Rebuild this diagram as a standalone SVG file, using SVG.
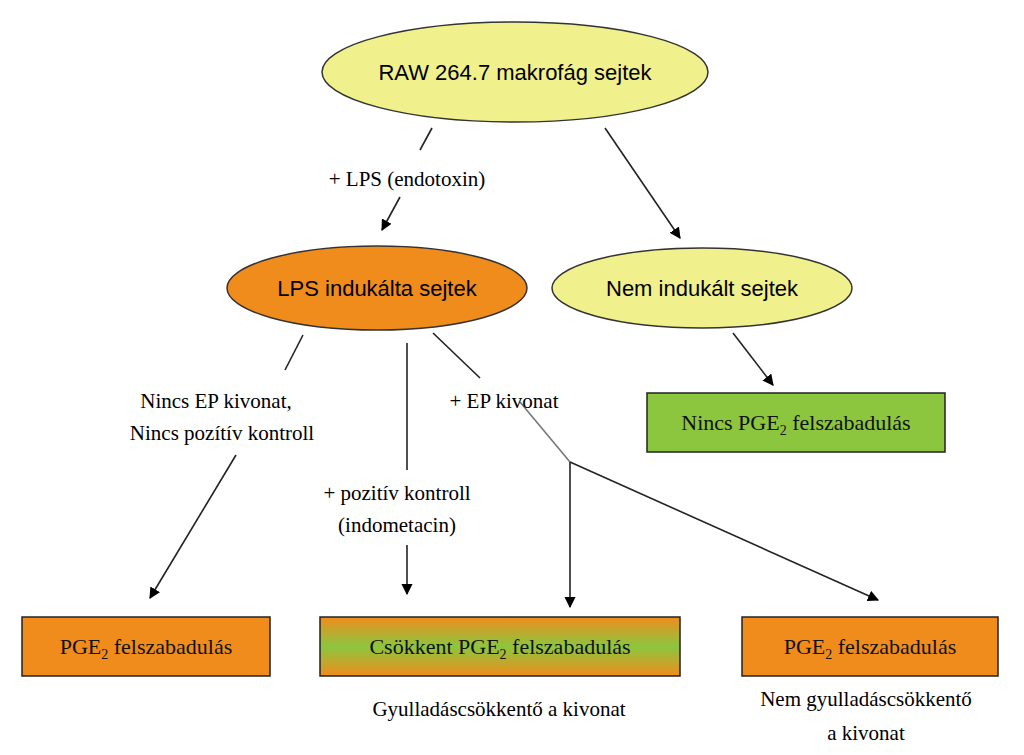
<svg xmlns="http://www.w3.org/2000/svg" width="1024" height="755" viewBox="0 0 1024 755">
<style>
.s{font-family:"Liberation Sans",Arial,sans-serif;font-size:22px;text-anchor:middle;fill:#000}
.t{font-family:"Liberation Serif","Times New Roman",serif;font-size:21px;text-anchor:middle;fill:#000}
.b{font-family:"Liberation Serif","Times New Roman",serif;font-size:22px;text-anchor:middle;fill:#111}
.l{stroke:#222;stroke-width:1.6;fill:none}
.box{stroke:#222;stroke-width:1.5}
</style>
<defs>
<marker id="a" viewBox="0 0 10 10" refX="9" refY="5" markerWidth="7" markerHeight="7" orient="auto"><path d="M0,0 L10,5 L0,10 z" fill="#000"/></marker>
<linearGradient id="g" x1="0" y1="0" x2="0" y2="1"><stop offset="0" stop-color="#f08c1c"/><stop offset="0.5" stop-color="#8cc63f"/><stop offset="1" stop-color="#f08c1c"/></linearGradient>
</defs>
<rect width="1024" height="755" fill="#fff"/>
<g id="connectors">
<line class="l" x1="432" y1="128" x2="420" y2="150"/>
<line class="l" x1="400" y1="197" x2="382" y2="230" marker-end="url(#a)"/>
<line class="l" x1="605" y1="128" x2="680" y2="238" marker-end="url(#a)"/>
<line class="l" x1="733" y1="333" x2="773" y2="385" marker-end="url(#a)"/>
<line class="l" x1="303" y1="335" x2="285" y2="370"/>
<line class="l" x1="236" y1="455" x2="150" y2="598" marker-end="url(#a)"/>
<line class="l" x1="407" y1="343" x2="407" y2="470"/>
<line class="l" x1="407" y1="545" x2="407" y2="594" marker-end="url(#a)"/>
<line class="l" x1="433" y1="333" x2="480" y2="378" stroke="#555"/>
<line class="l" x1="520" y1="402" x2="570" y2="462" style="stroke:#777"/>
<line class="l" x1="570" y1="462" x2="570" y2="607" marker-end="url(#a)"/>
<line class="l" x1="570" y1="462" x2="878" y2="600" marker-end="url(#a)"/>
<text class="t" x="407" y="186">+ LPS (endotoxin)</text>
<text class="t" x="216" y="408">Nincs EP kivonat,</text>
<text class="t" x="222" y="440">Nincs pozítív kontroll</text>
<text class="t" x="504" y="408">+ EP kivonat</text>
<text class="t" x="397" y="500">+ pozitív kontroll</text>
<text class="t" x="397" y="532">(indometacin)</text>
<text class="t" x="499" y="716">Gyulladáscsökkentő a kivonat</text>
<text class="t" x="866" y="706">Nem gyulladáscsökkentő</text>
<text class="t" x="866" y="740">a kivonat</text>
</g>
<g id="raw"><ellipse cx="515" cy="72" rx="193" ry="50" fill="#f0f08c" stroke="#333" stroke-width="1.5"/><text class="s" x="515" y="80">RAW 264.7 makrofág sejtek</text></g>
<g id="lps"><ellipse cx="377" cy="288" rx="150" ry="42" fill="#f08c1c" stroke="#333" stroke-width="1.5"/><text class="s" x="377" y="296">LPS indukálta sejtek</text></g>
<g id="nem"><ellipse cx="702" cy="288" rx="150" ry="40" fill="#f0f08c" stroke="#333" stroke-width="1.5"/><text class="s" x="702" y="296">Nem indukált sejtek</text></g>
<g id="nincs"><rect class="box" x="647" y="393" width="298" height="59" fill="#8cc63f"/><text class="b" x="796" y="430">Nincs PGE<tspan font-size="14" dy="5">2</tspan><tspan dy="-5"> felszabadulás</tspan></text></g>
<g id="pge1"><rect class="box" x="22" y="617" width="248" height="59" fill="#f08c1c"/><text class="b" x="146" y="654">PGE<tspan font-size="14" dy="5">2</tspan><tspan dy="-5"> felszabadulás</tspan></text></g>
<g id="csokkent"><rect class="box" x="320" y="617" width="360" height="59" fill="url(#g)"/><text class="b" x="500" y="654">Csökkent PGE<tspan font-size="14" dy="5">2</tspan><tspan dy="-5"> felszabadulás</tspan></text></g>
<g id="pge3"><rect class="box" x="742" y="617" width="256" height="59" fill="#f08c1c"/><text class="b" x="870" y="654">PGE<tspan font-size="14" dy="5">2</tspan><tspan dy="-5"> felszabadulás</tspan></text></g>
</svg>
